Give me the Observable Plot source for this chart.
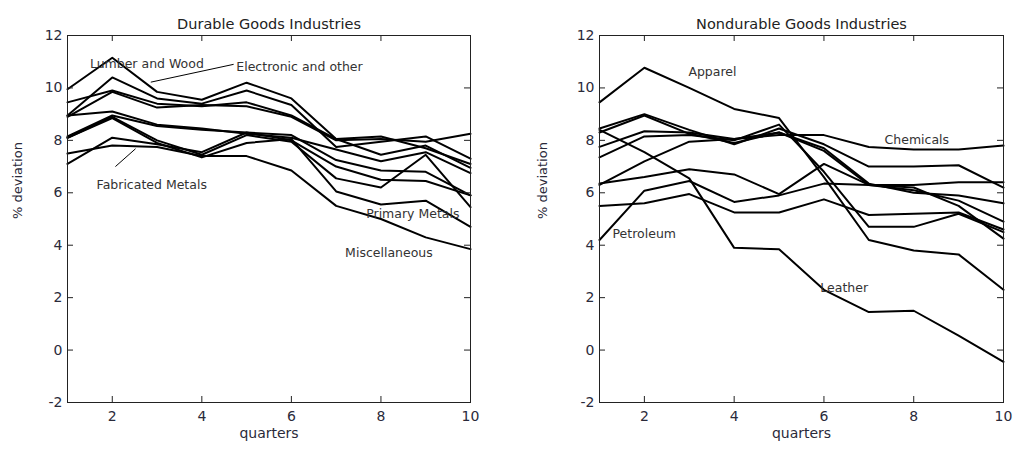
<!DOCTYPE html>
<html><head><meta charset="utf-8">
<script src="https://cdn.jsdelivr.net/npm/d3@7"></script>
<script src="https://cdn.jsdelivr.net/npm/@observablehq/plot@0.6"></script>
<style>
body{margin:0;background:#fff;font-family:"DejaVu Sans",sans-serif;}
#wrap{position:relative;width:1018px;height:450px;overflow:hidden;}
#wrap > div{position:absolute;top:0;}
#left{left:0;} #right{left:509px;}
</style></head><body>
<div id="wrap"><div id="left"></div><div id="right"></div></div>
<script>
const quarters = [1,2,3,4,5,6,7,8,9,10];
const xTicks = [2,4,6,8,10];
const yTicks = [-2,0,2,4,6,8,10,12];

const durableNames = ["Lumber and Wood","Electronic and other","Furniture","Stone, Clay, Glass","Industrial Machinery","Transportation","Instruments","Primary Metals","Fabricated Metals","Miscellaneous"];
const durableValues = [
  [9.95, 11.15, 9.85, 9.55, 10.2, 9.6, 8.05, 7.45, 7.8, 6.95],
  [8.95, 10.4, 9.6, 9.4, 9.9, 9.35, 7.75, 7.95, 8.15, 7.3],
  [9.45, 9.9, 9.4, 9.3, 9.45, 8.95, 8.05, 8.15, 7.7, 7.1],
  [8.9, 9.85, 9.25, 9.35, 9.3, 8.9, 8.0, 8.05, 7.95, 8.25],
  [8.95, 9.1, 8.6, 8.45, 8.25, 8.1, 7.65, 7.2, 7.55, 6.75],
  [8.15, 8.95, 8.55, 8.4, 8.3, 8.2, 7.25, 6.85, 6.8, 5.9],
  [8.1, 8.9, 8.0, 7.45, 8.2, 7.95, 6.55, 6.2, 7.45, 5.45],
  [8.1, 8.85, 7.9, 7.35, 7.9, 8.05, 6.05, 5.55, 5.7, 4.7],
  [7.1, 8.1, 7.85, 7.55, 8.3, 8.0, 7.0, 6.5, 6.45, 5.9],
  [7.5, 7.8, 7.75, 7.4, 7.4, 6.85, 5.5, 5.0, 4.3, 3.85]
];

const nondurableNames = ["Apparel","Chemicals","Food","Paper","Rubber","Leather","Textile","Petroleum","Printing","Tobacco"];
const nondurableValues = [
  [9.45, 10.77, 10.0, 9.2, 8.85, 6.6, 4.2, 3.8, 3.65, 2.3],
  [7.75, 8.35, 8.3, 8.05, 8.2, 8.2, 7.75, 7.65, 7.65, 7.8],
  [8.45, 9.0, 8.4, 7.85, 8.45, 7.85, 7.0, 7.0, 7.05, 6.2],
  [8.3, 8.95, 8.25, 7.9, 8.3, 7.6, 6.3, 6.1, 5.7, 4.9],
  [7.35, 8.15, 8.2, 8.0, 8.6, 6.8, 4.7, 4.7, 5.2, 4.5],
  [8.4, 7.55, 6.55, 3.9, 3.85, 2.3, 1.45, 1.5, 0.55, -0.45],
  [6.35, 6.6, 6.9, 6.7, 5.95, 7.1, 6.3, 6.2, 5.5, 4.25],
  [4.2, 6.08, 6.45, 5.65, 5.9, 6.35, 6.3, 6.3, 6.4, 6.4],
  [5.5, 5.6, 5.95, 5.25, 5.25, 5.75, 5.15, 5.2, 5.25, 4.6],
  [6.3, 7.2, 7.95, 8.05, 8.3, 7.7, 6.35, 6.0, 5.9, 5.6]
];

const durableLabelText = ["Lumber and Wood","Electronic and other","Fabricated Metals","Primary Metals","Miscellaneous"];
const durableLabelX = [1.5, 4.77, 1.65, 7.67, 7.2];
const durableLabelY = [10.9, 10.78, 6.31, 5.2, 3.72];
const durableLeaderX1 = [2.86, 2.07];
const durableLeaderY1 = [10.22, 7.0];
const durableLeaderX2 = [4.71, 2.52];
const durableLeaderY2 = [10.9, 7.68];

const nondurableLabelText = ["Apparel","Chemicals","Petroleum","Leather"];
const nondurableLabelX = [2.98, 7.35, 1.29, 5.92];
const nondurableLabelY = [10.59, 8.0, 4.44, 2.38];

const FONT = "'DejaVu Sans', sans-serif";
const INK = "#2a2a3a";
const W = 509, H = 450, MT = 35, MB = 48, TICK = 6;

function panel(title, names, values, labText, labX, labY, leadX1, leadY1, leadX2, leadY2, marginLeft, marginRight, ylabDx) {
  const rows = names.flatMap((n, i) => quarters.map((q, j) => ({industry: n, quarter: q, value: values[i][j]})));
  const labs = labText.map((t, i) => ({t, x: labX[i], y: labY[i]}));
  const leads = leadX1.map((d, i) => ({x1: leadX1[i], y1: leadY1[i], x2: leadX2[i], y2: leadY2[i]}));
  const fmt = d => String(d);
  const pw = W - marginLeft - marginRight;
  const ph = H - MT - MB;
  return Plot.plot({
    width: W, height: H,
    marginLeft, marginRight, marginTop: MT, marginBottom: MB,
    x: {domain: [1, 10], label: null, axis: null},
    y: {domain: [-2, 12], label: null, axis: null},
    style: {fontFamily: FONT, background: "#fff", color: "#222"},
    marks: [
      Plot.lineY(rows, {x: "quarter", y: "value", z: "industry", stroke: "#000", strokeWidth: 2, strokeLinejoin: "round"}),
      Plot.link(leads, {x1: "x1", y1: "y1", x2: "x2", y2: "y2", stroke: "#000", strokeWidth: 1}),
      Plot.text(labs, {x: "x", y: "y", text: "t", textAnchor: "start", fontSize: 12.5, fill: "#333"}),
      // inward tick marks on all four sides
      Plot.tickY(yTicks, {y: d => d, insetRight: pw - TICK, stroke: "#222"}),
      Plot.tickY(yTicks, {y: d => d, insetLeft: pw - TICK, stroke: "#222"}),
      Plot.tickX(xTicks, {x: d => d, insetTop: ph - TICK, stroke: "#222"}),
      Plot.tickX(xTicks, {x: d => d, insetBottom: ph - TICK, stroke: "#222"}),
      Plot.frame({stroke: "#222", strokeWidth: 1}),
      Plot.axisX(xTicks, {anchor: "bottom", tickSize: 0, tickPadding: 9, fontSize: 14, fill: INK, tickFormat: fmt, label: null}),
      Plot.axisY(yTicks, {anchor: "left", tickSize: 0, tickPadding: 5, fontSize: 14, fill: INK, tickFormat: fmt, label: null}),
      Plot.text(["quarters"], {frameAnchor: "bottom", dy: 35, fontSize: 14, fill: INK}),
      Plot.text(["% deviation"], {frameAnchor: "left", dx: ylabDx, rotate: -90, fontSize: 13, fill: INK}),
      Plot.text([title], {frameAnchor: "top", dy: -17, fontSize: 14.5, fill: "#222"})
    ]
  });
}

document.getElementById("left").append(panel("Durable Goods Industries", durableNames, durableValues,
  durableLabelText, durableLabelX, durableLabelY, durableLeaderX1, durableLeaderY1, durableLeaderX2, durableLeaderY2, 67, 39, -50));
document.getElementById("right").append(panel("Nondurable Goods Industries", nondurableNames, nondurableValues,
  nondurableLabelText, nondurableLabelX, nondurableLabelY, [], [], [], [], 90, 15, -57));
</script>
</body></html>
